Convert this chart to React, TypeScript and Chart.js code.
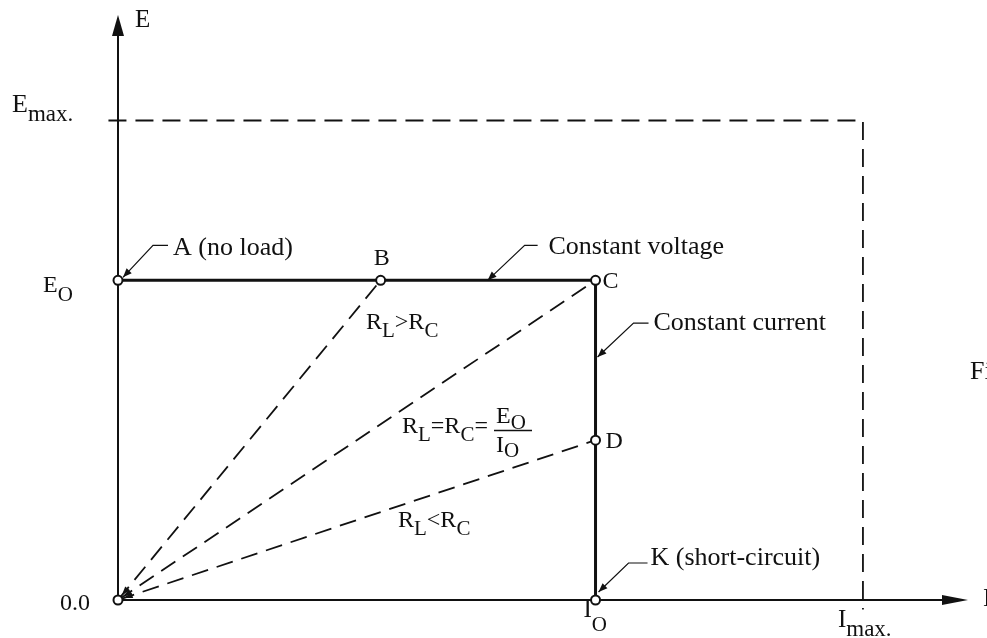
import React, { useEffect, useRef } from "react";
import { Chart, registerables } from "chart.js";

Chart.register(...registerables);

// ---- data (I = current, E = voltage, in relative units: I_O = 10, E_O = 10) ----
const pointNames = ["O", "A", "B", "C", "D", "K"];
const pointI = [0, 0, 5.5, 10, 10, 10];
const pointE = [0, 10, 10, 10, 5, 0];

// constant voltage A -> C, constant current C -> K
const characteristicI = [0, 10, 10];
const characteristicE = [10, 10, 0];

// load lines from origin to these points
const loadLineTargets = ["B", "C", "D"];

// E_max / I_max limit rectangle
const limitI = [-0.2, 15.6, 15.6];
const limitE = [15, 15, -0.3];

const axisMaxI = 17.8;
const axisMaxE = 18.3;
const ratedI = 10;
const ratedE = 10;
const maxI = 15.6;
const maxE = 15;

const FONT = '"Liberation Serif", "Times New Roman", serif';

type Part = { t: string; s: number; dy: number };
const P = (t: string, s = 26, dy = 0): Part => ({ t, s, dy });

function drawRich(ctx: CanvasRenderingContext2D, parts: Part[], x: number, y: number, align: "left" | "right" = "left") {
  let total = 0;
  for (const p of parts) {
    ctx.font = `${p.s}px ${FONT}`;
    total += ctx.measureText(p.t).width;
  }
  let cx = align === "right" ? x - total : x;
  ctx.textAlign = "left";
  ctx.textBaseline = "alphabetic";
  for (const p of parts) {
    ctx.font = `${p.s}px ${FONT}`;
    ctx.fillText(p.t, cx, y + p.dy);
    cx += ctx.measureText(p.t).width;
  }
}

function arrowHead(ctx: CanvasRenderingContext2D, tx: number, ty: number, fx: number, fy: number, len: number, half: number) {
  const a = Math.atan2(ty - fy, tx - fx);
  ctx.beginPath();
  ctx.moveTo(tx, ty);
  ctx.lineTo(tx - len * Math.cos(a) + half * Math.sin(a), ty - len * Math.sin(a) - half * Math.cos(a));
  ctx.lineTo(tx - len * Math.cos(a) - half * Math.sin(a), ty - len * Math.sin(a) + half * Math.cos(a));
  ctx.closePath();
  ctx.fill();
}

const pt = (name: string) => {
  const i = pointNames.indexOf(name);
  return { x: pointI[i], y: pointE[i] };
};

const diagramPlugin = {
  id: "diagram",
  beforeDatasetsDraw(chart: any) {
    const { ctx, scales } = chart;
    const X = (v: number) => scales.x.getPixelForValue(v);
    const Y = (v: number) => scales.y.getPixelForValue(v);
    ctx.save();
    ctx.strokeStyle = "#111";
    ctx.fillStyle = "#111";
    ctx.lineWidth = 2;
    // vertical axis
    ctx.beginPath();
    ctx.moveTo(X(0), Y(0));
    ctx.lineTo(X(0), Y(axisMaxE) + 15);
    ctx.stroke();
    arrowHead(ctx, X(0), Y(axisMaxE), X(0), Y(0), 21, 6);
    // horizontal axis
    ctx.beginPath();
    ctx.moveTo(X(0), Y(0));
    ctx.lineTo(X(axisMaxI) - 20, Y(0));
    ctx.stroke();
    arrowHead(ctx, X(axisMaxI), Y(0), X(0), Y(0), 26, 5);
    ctx.restore();
  },
  afterDatasetsDraw(chart: any) {
    const { ctx, scales } = chart;
    const X = (v: number) => scales.x.getPixelForValue(v);
    const Y = (v: number) => scales.y.getPixelForValue(v);
    ctx.save();
    ctx.fillStyle = "#111";
    ctx.strokeStyle = "#111";

    // small arrowheads of load lines at origin
    for (const n of loadLineTargets) {
      const p = pt(n);
      const ox = X(0), oy = Y(0);
      const tx = X(p.x), ty = Y(p.y);
      const a = Math.atan2(ty - oy, tx - ox);
      const hx = ox + 6 * Math.cos(a), hy = oy + 6 * Math.sin(a);
      arrowHead(ctx, hx, hy, tx, ty, 9, 3);
    }

    // leader lines with arrows
    const A = pt("A"), C = pt("C"), K = pt("K");
    const leaders = [
      { ax: X(A.x) + 5, ay: Y(A.y) - 3, mx: X(A.x) + 35, my: Y(A.y) - 35, ex: X(A.x) + 50 },
      { ax: X(5.5) + 107, ay: Y(ratedE), mx: X(5.5) + 144, my: Y(ratedE) - 35, ex: X(5.5) + 157 },
      { ax: X(C.x) + 2, ay: Y(7.6), mx: X(C.x) + 38, my: Y(7.6) - 34, ex: X(C.x) + 53 },
      { ax: X(K.x) + 3, ay: Y(K.y) - 8, mx: X(K.x) + 33, my: Y(K.y) - 37, ex: X(K.x) + 52 },
    ];
    ctx.lineWidth = 1.2;
    for (const l of leaders) {
      ctx.beginPath();
      ctx.moveTo(l.ax, l.ay);
      ctx.lineTo(l.mx, l.my);
      ctx.lineTo(l.ex, l.my);
      ctx.stroke();
      arrowHead(ctx, l.ax, l.ay, l.mx, l.my, 9, 3.5);
    }

    const S = 21; // subscript size
    // axis labels
    drawRich(ctx, [P("E", 25)], X(0) + 17, Y(axisMaxE) + 12);
    drawRich(ctx, [P("I", 25)], X(axisMaxI) + 15, Y(0) + 6);
    drawRich(ctx, [P("E", 26), P("max.", 23, 9)], X(0) - 106, Y(maxE) - 8);
    drawRich(ctx, [P("E", 24), P("O", S, 9)], X(0) - 75, Y(ratedE) + 12);
    drawRich(ctx, [P("0.0", 24)], X(0) - 28, Y(0) + 10, "right");
    drawRich(ctx, [P("I", 25), P("O", S, 14)], X(ratedI) - 12, Y(0) + 17);
    drawRich(ctx, [P("I", 25), P("max.", 23, 9)], X(maxI) - 25, Y(0) + 27);

    // point labels
    drawRich(ctx, [P("A (no load)")], X(A.x) + 55, Y(A.y) - 25);
    const B = pt("B");
    drawRich(ctx, [P("B", 24)], X(B.x) - 7, Y(B.y) - 15);
    drawRich(ctx, [P("C", 24)], X(C.x) + 7, Y(C.y) + 8);
    const D = pt("D");
    drawRich(ctx, [P("D", 24)], X(D.x) + 10, Y(D.y) + 8);
    drawRich(ctx, [P("Constant voltage")], X(C.x) - 47, Y(C.y) - 26);
    drawRich(ctx, [P("Constant current")], X(C.x) + 58, Y(C.y) + 50);
    drawRich(ctx, [P("K (short-circuit)")], X(K.x) + 55, Y(K.y) - 35);

    // resistance labels
    drawRich(ctx, [P("R", 24), P("L", S, 8), P(">", 24), P("R", 24), P("C", S, 8)], 366, 329);
    drawRich(ctx, [P("R", 24), P("L", S, 8), P("=", 24), P("R", 24), P("C", S, 8), P("=", 24)], 402, 433);
    drawRich(ctx, [P("E", 24), P("O", S, 6)], 496, 423);
    ctx.lineWidth = 1.5;
    ctx.beginPath();
    ctx.moveTo(494, 430.5);
    ctx.lineTo(532, 430.5);
    ctx.stroke();
    drawRich(ctx, [P("I", 24), P("O", S, 5)], 496, 452);
    drawRich(ctx, [P("R", 24), P("L", S, 8), P("<", 24), P("R", 24), P("C", S, 8)], 398, 527);

    // cut-off caption at right edge
    drawRich(ctx, [P("Fig.", 26)], 970, 379);
    ctx.restore();
  },
};

export default function App() {
  const ref = useRef<HTMLCanvasElement | null>(null);
  useEffect(() => {
    if (!ref.current) return;
    const dash = [17, 9];
    const loadLines = loadLineTargets.map((n) => ({
      data: [{ x: 0, y: 0 }, pt(n)],
      showLine: true,
      borderColor: "#111",
      borderWidth: 1.8,
      borderDash: dash,
      pointRadius: 0,
    }));
    const chart = new Chart(ref.current, {
      type: "scatter",
      data: {
        datasets: [
          {
            data: pointNames.map((_, i) => ({ x: pointI[i], y: pointE[i] })),
            showLine: false,
            pointRadius: 4.5,
            pointBorderWidth: 2,
            pointBackgroundColor: "#fff",
            pointBorderColor: "#111",
            clip: false,
          } as any,
          {
            data: characteristicI.map((x, i) => ({ x, y: characteristicE[i] })),
            showLine: true,
            borderColor: "#111",
            borderWidth: 3,
            pointRadius: 0,
          },
          ...loadLines,
          {
            data: limitI.map((x, i) => ({ x, y: limitE[i] })),
            showLine: true,
            borderColor: "#111",
            borderWidth: 1.8,
            borderDash: [18, 9],
            pointRadius: 0,
            clip: false,
          } as any,
        ],
      },
      options: {
        responsive: false,
        animation: false,
        events: [],
        layout: { padding: { left: 118, right: 19, top: 15, bottom: 38 } },
        plugins: { legend: { display: false }, tooltip: { enabled: false }, title: { display: false } },
        scales: {
          x: { type: "linear", min: 0, max: axisMaxI, display: false },
          y: { type: "linear", min: 0, max: axisMaxE, display: false },
        },
      },
      plugins: [diagramPlugin],
    });
    return () => chart.destroy();
  }, []);
  return (
    <div style={{ position: "fixed", left: 0, top: 0, width: 987, height: 638, background: "#fff" }}>
      <canvas ref={ref} width={987} height={638} style={{ display: "block" }} />
    </div>
  );
}
